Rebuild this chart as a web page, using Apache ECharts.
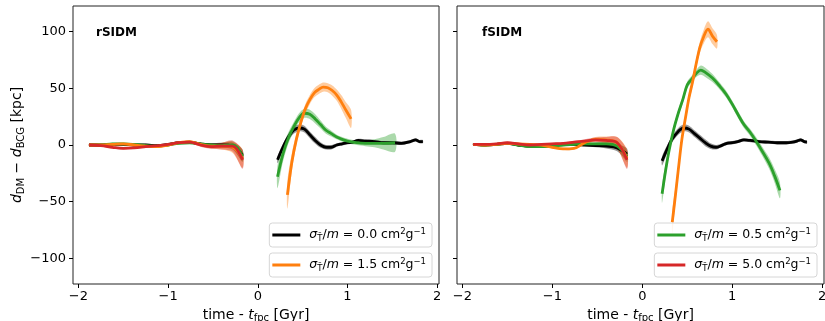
<!DOCTYPE html>
<html>
<head>
<meta charset="utf-8">
<script src="https://cdn.jsdelivr.net/npm/echarts@6/dist/echarts.min.js"></script>
<style>
  html, body { margin: 0; padding: 0; background: #fff; }
  #chart { width: 825px; height: 321px; }
</style>
</head>
<body>
<div id="chart"></div>
<script>
// tick labels
const xTicks = [-2, -1, 0, 1, 2]
const yTicks = [-100, -50, 0, 50, 100]
const panelNames = ['rSIDM', 'fSIDM']

// before the first pericentre (same times for every run)
const preX = [-1.88, -1.75, -1.62, -1.50, -1.38, -1.25, -1.12, -1.00, -0.88, -0.76, -0.64, -0.52, -0.40, -0.28, -0.17]
const preBandNarrow = [1, 1, 1, 1, 1, 1, 1, 1, 1, 1, 1, 1.5, 2, 3, 5]
const preBandWide = [1, 1, 1, 1, 1, 1, 1, 1, 1, 1, 1.5, 2, 3, 5, 8]

// rSIDM, before
const rPreBlack = [0, 0, 0.5, 0.5, 0, 0, -0.5, 0.5, 2, 2.5, 1, 0, 0, -1, -9]
const rPreGreen = [0, 0, 1, 1, 0.5, -0.5, -1, 0, 1.5, 2, 1, 0, -0.5, 0, -10]
const rPreOrange = [0, 0, 0.5, 1, 0, -1, -1.5, 0, 2, 3, 0.5, -1, -1, -2, -12]
const rPreRed = [0, -0.5, -2, -3, -2.5, -1.5, -0.5, 0.5, 2, 2.5, 0, -1.5, -1, -1, -13]

// rSIDM, after
const rPostBlackX = [0.22, 0.28, 0.34, 0.40, 0.46, 0.52, 0.58, 0.64, 0.70, 0.76, 0.82, 0.88, 0.94, 1.00, 1.06, 1.12, 1.20, 1.30, 1.40, 1.50, 1.60, 1.70, 1.76, 1.80, 1.84]
const rPostBlack = [-13, -2, 7, 13, 15, 14, 9, 4, 0, -2, -2, 0, 1, 2, 2.5, 4, 3.5, 3, 2, 2, 1.5, 3, 4.5, 3, 3]
const rPostBlackBand = [3, 3, 3, 3, 3, 3, 3, 3, 2.5, 2, 2, 1.5, 1.5, 1.5, 1.5, 1.5, 1.5, 1.5, 1.5, 1.5, 1.5, 1.5, 1.5, 1.5, 1.5]
const rPostGreenX = [0.22, 0.28, 0.34, 0.40, 0.46, 0.52, 0.58, 0.64, 0.70, 0.76, 0.82, 0.88, 0.94, 1.00, 1.10, 1.20, 1.30, 1.40, 1.53]
const rPostGreen = [-28, -8, 6, 16, 24, 28, 27, 23, 18, 13, 10, 7, 5, 3.5, 2, 1.5, 1.5, 1.5, 2]
const rPostGreenBand = [10, 7, 5, 4, 4, 4, 4, 4, 3.5, 3, 2.5, 2, 2, 2, 2, 2.5, 3.5, 5.5, 8]
const rPostOrangeX = [0.33, 0.38, 0.43, 0.48, 0.53, 0.58, 0.63, 0.68, 0.73, 0.78, 0.83, 0.88, 0.93, 0.98, 1.04]
const rPostOrange = [-44, -15, 5, 20, 32, 40, 46, 49, 51, 50.5, 48, 44, 38, 31, 23]
const rPostOrangeBand = [12, 8, 5, 4, 4, 4, 4, 4, 4, 4, 4.5, 5, 6, 7, 8]

// fSIDM, before
const fPreBlack = [0.5, 0, 0.5, 1.5, 0, -1, -1, 0, 0.5, 0.5, 0, -0.5, -1, -2.5, -8]
const fPreGreen = [0.5, 0, 0.5, 1.5, 0, -1.5, -1.5, -1, 0, 0.5, 1, 1, 1, -1, -10]
const fPreOrange = [0.5, 0, 0.5, 1.5, 1, 0.5, 0, -2, -3.5, -3, 2, 5, 4.5, 2, -12]
const fPreRed = [0.5, 0.5, 1, 2, 1, 0, 0.5, 1, 1.5, 2.5, 3.5, 4.5, 4, 2, -13]

// fSIDM, after
const fPostBlackX = [0.22, 0.28, 0.33, 0.40, 0.46, 0.52, 0.58, 0.64, 0.70, 0.76, 0.82, 0.88, 0.94, 1.00, 1.06, 1.13, 1.20, 1.30, 1.40, 1.50, 1.60, 1.67, 1.72, 1.76, 1.80, 1.83]
const fPostBlack = [-14, -3, 5, 12, 15, 14, 10, 6, 2, -1, -2, -0.5, 1.5, 2, 3, 4.5, 4, 3, 2.5, 2, 2, 2.5, 3.5, 4.5, 3, 2.5]
const fPostBlackBand = [4, 3.5, 3, 3, 3, 3, 3, 3, 3, 2.5, 2, 1.5, 1.5, 1.5, 1.5, 1.5, 1.5, 1.5, 1.5, 1.5, 1.5, 1.5, 1.5, 1.5, 1.5, 1.5]
const fPostGreenX = [0.22, 0.26, 0.30, 0.35, 0.40, 0.45, 0.50, 0.55, 0.60, 0.65, 0.70, 0.78, 0.86, 0.93, 1.00, 1.07, 1.13, 1.20, 1.26, 1.33, 1.41, 1.47, 1.53]
const fPostGreen = [-43, -22, -4, 14, 28, 40, 53, 58, 63, 66, 64, 59, 52, 45, 36, 26, 18, 11, 4, -5, -16, -27, -40]
const fPostGreenBand = [8, 6, 4, 3, 3, 3, 3, 3, 3, 4, 4, 3.5, 3, 3, 3, 3, 3, 3, 3.5, 4, 5, 6, 7]
const fPostOrangeX = [0.333, 0.36, 0.40, 0.44, 0.48, 0.52, 0.56, 0.60, 0.64, 0.68, 0.73, 0.78, 0.83]
const fPostOrange = [-68, -50, -22, 5, 24, 42, 56, 72, 86, 95, 102, 96, 91]
const fPostOrangeBand = [10, 8, 6, 4, 4, 4, 4, 4, 5, 6, 7, 7, 6]

const colors = { '0.0': '#000000', '0.5': '#2ca02c', '1.5': '#ff7f0e', '5.0': '#d62728' }
const FONT = 'DejaVu Sans'

const chart = echarts.init(document.getElementById('chart'), null, { renderer: 'canvas' })

const series = []

// line + shaded band (custom polygon through the axis scales)
function addCurve(panel, key, xs, ys, ws) {
    const color = colors[key]
    series.push({
        type: 'custom', coordinateSystem: 'cartesian2d',
        xAxisIndex: panel, yAxisIndex: panel, silent: true, z: 1,
        encode: { x: 0, y: [1, 2] },
        data: xs.map((x, i) => [x, ys[i] - ws[i], ys[i] + ws[i]]),
        renderItem: (params, api) => {
            if (params.dataIndex !== 0) return null
            const upper = xs.map((x, i) => api.coord([x, ys[i] + ws[i]]))
            const lower = xs.map((x, i) => api.coord([x, ys[i] - ws[i]])).reverse()
            return {
                type: 'polygon',
                shape: { points: upper.concat(lower), smooth: 0.3 },
                style: { fill: color, opacity: 0.4 }
            }
        }
    })
    series.push({
        name: key, type: 'line', xAxisIndex: panel, yAxisIndex: panel,
        symbol: 'none', smooth: 0.35, color: color, z: 3,
        lineStyle: { width: 2.8, color: color },
        data: xs.map((x, i) => [x, ys[i]])
    })
}

// rSIDM
addCurve(0, '0.0', preX, rPreBlack, preBandNarrow)
addCurve(0, '0.0', rPostBlackX, rPostBlack, rPostBlackBand)
addCurve(0, '0.5', preX, rPreGreen, preBandNarrow)
addCurve(0, '0.5', rPostGreenX, rPostGreen, rPostGreenBand)
addCurve(0, '1.5', preX, rPreOrange, preBandWide)
addCurve(0, '1.5', rPostOrangeX, rPostOrange, rPostOrangeBand)
addCurve(0, '5.0', preX, rPreRed, preBandWide)
// fSIDM
addCurve(1, '0.0', preX, fPreBlack, preBandNarrow)
addCurve(1, '0.0', fPostBlackX, fPostBlack, fPostBlackBand)
addCurve(1, '0.5', preX, fPreGreen, preBandNarrow)
addCurve(1, '0.5', fPostGreenX, fPostGreen, fPostGreenBand)
addCurve(1, '1.5', preX, fPreOrange, preBandWide)
addCurve(1, '1.5', fPostOrangeX, fPostOrange, fPostOrangeBand)
addCurve(1, '5.0', preX, fPreRed, preBandWide)

const mathRich = {
    n: { fontFamily: FONT, fontSize: 12.5, color: '#000' },
    i: { fontFamily: FONT, fontSize: 12.5, fontStyle: 'italic', color: '#000' },
    sb: { fontFamily: FONT, fontSize: 8.5, color: '#000', padding: [7, 0, 0, 0] },
    sp: { fontFamily: FONT, fontSize: 8.5, color: '#000', padding: [0, 0, 7, 0] }
}

function makeLegend(key, right, top) {
    return {
        data: [{ name: key, icon: 'rect' }],
        right: right, top: top,
        orient: 'horizontal',
        itemWidth: 28, itemHeight: 3,
        padding: [4, 6, 4, 3],
        borderColor: '#d6d6d6', borderWidth: 1, borderRadius: 3,
        backgroundColor: 'rgba(255,255,255,0.8)',
        selectedMode: false,
        formatter: name => '{n| }{i|σ}{sb|T̃}{n|/}{i|m}{n| = ' + name + ' cm}{sp|2}{n|g}{sp|−1}',
        textStyle: { rich: mathRich }
    }
}

function xAxis(panel) {
    return {
        type: 'value', gridIndex: panel, min: -2.06, max: 2.02,
        axisLine: { show: false, onZero: false },
        axisTick: { show: true, length: 4, lineStyle: { color: '#000' }, customValues: xTicks },
        axisLabel: { color: '#000', fontFamily: FONT, fontSize: 13, margin: 6, customValues: xTicks,
            formatter: v => String(v).replace('-', '−') },
        splitLine: { show: false },
        name: '{n|time - }{i|t}{sb|fpc}{n| [Gyr]}',
        nameLocation: 'middle', nameGap: 21,
        nameTextStyle: { rich: {
            n: { fontFamily: FONT, fontSize: 14, color: '#000' },
            i: { fontFamily: FONT, fontSize: 14, fontStyle: 'italic', color: '#000' },
            sb: { fontFamily: FONT, fontSize: 10, color: '#000', padding: [7, 0, 0, 0] }
        } }
    }
}

function yAxis(panel) {
    const ax = {
        type: 'value', gridIndex: panel, min: -122.5, max: 122.5,
        axisLine: { show: false, onZero: false },
        axisTick: { show: true, length: 4, lineStyle: { color: '#000' }, customValues: yTicks },
        axisLabel: { show: panel === 0, color: '#000', fontFamily: FONT, fontSize: 13, margin: 7, customValues: yTicks,
            formatter: v => String(v).replace('-', '−') },
        splitLine: { show: false }
    }
    if (panel === 0) {
        ax.name = '{i|d}{sb|DM}{n| − }{i|d}{sb|BCG}{n| [kpc]}'
        ax.nameLocation = 'middle'
        ax.nameRotate = 90
        ax.nameGap = 47
        ax.nameTextStyle = { rich: {
            n: { fontFamily: FONT, fontSize: 14, color: '#000' },
            i: { fontFamily: FONT, fontSize: 14, fontStyle: 'italic', color: '#000' },
            sb: { fontFamily: FONT, fontSize: 10, color: '#000', padding: [7, 0, 0, 0] }
        } }
    }
    return ax
}

const option = {
    backgroundColor: '#fff',
    animation: false,
    grid: [
        { left: 73, right: 386, top: 6, bottom: 37, show: true, borderColor: '#222', borderWidth: 1, containLabel: false, outerBoundsMode: 'none' },
        { left: 457, right: 1, top: 6, bottom: 37, show: true, borderColor: '#222', borderWidth: 1, containLabel: false, outerBoundsMode: 'none' }
    ],
    xAxis: [xAxis(0), xAxis(1)],
    yAxis: [yAxis(0), yAxis(1)],
    legend: [
        makeLegend('0.0', 393, 223),
        makeLegend('1.5', 393, 253),
        makeLegend('0.5', 8, 223),
        makeLegend('5.0', 8, 253)
    ],
    graphic: [
        { type: 'text', left: 96, top: 27, style: { text: panelNames[0], fontFamily: FONT, fontSize: 12, fontWeight: 'bold', fill: '#000' } },
        { type: 'text', left: 482, top: 27, style: { text: panelNames[1], fontFamily: FONT, fontSize: 12, fontWeight: 'bold', fill: '#000' } }
    ],
    series: series
}

chart.setOption(option)
</script>
</body>
</html>
